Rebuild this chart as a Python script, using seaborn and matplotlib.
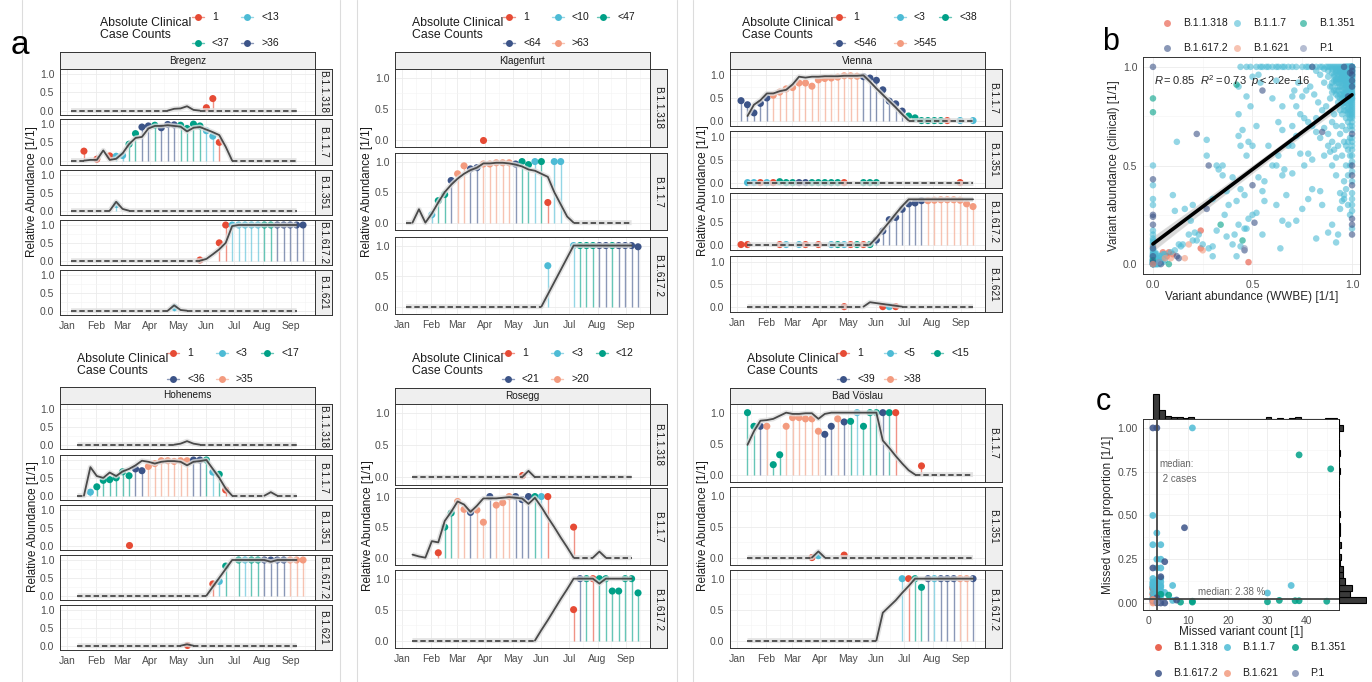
import numpy as np
import pandas as pd
import matplotlib
matplotlib.use("Agg")
import matplotlib.pyplot as plt
import matplotlib.dates as mdates
import seaborn as sns

N = None

# ---------------- data: panel a (weekly, week 0 = 2021-01-05) ----------------
WEEKS = pd.date_range("2021-01-05", periods=37, freq="7D")
NPG = ["#E64B35", "#4DBBD5", "#00A087", "#3C5488", "#F39B7F", "#8491B4"]

BREGENZ_LEVELS = ["1", "<13", "<37", ">36"]
BREGENZ_WW = {
    "B.1.1.318": [0, 0, 0, 0, 0, 0, 0, 0, 0, 0, 0, 0, 0, 0, 0, 0, .05, .06, .12, .02,
                  0, 0, 0, 0, 0, 0, 0, 0, 0, 0, 0, 0, 0, 0, 0, 0],
    "B.1.1.7": [0, 0, 0, .02, .02, .28, .02, .05, .2, .45, .62, .65, .88, .95, .95, .97, .95, .93,
                .8, .9, .92, .85, .78, .7, .38, 0, 0, 0, 0, 0, 0, 0, 0, 0, 0, 0],
    "B.1.351": [0, 0, 0, 0, 0, 0, 0, .25, .05, 0, 0, 0, 0, 0, 0, 0, 0, 0,
                0, 0, 0, 0, 0, 0, 0, 0, 0, 0, 0, 0, 0, 0, 0, 0, 0, 0],
    "B.1.617.2": [0, 0, 0, 0, 0, 0, 0, 0, 0, 0, 0, 0, 0, 0, 0, 0, 0, 0, 0, 0, 0,
                  .05, .18, .32, .5, .97, 1, 1, 1, 1, 1, 1, 1, 1, 1, 1],
    "B.1.621": [0, 0, 0, 0, 0, 0, 0, 0, 0, 0, 0, 0, 0, 0, 0, 0, .15, .02,
                0, 0, 0, 0, 0, 0, 0, 0, 0, 0, 0, 0, 0, 0, 0, 0, 0, 0],
}
BREGENZ_CL = {
    "B.1.1.318": [(21, .08, 0), (22, .33, 0)],
    "B.1.1.7": [(2, .26, 0), (4, .04, 0), (6, .13, 0), (7, .12, 1), (8, .14, 1), (9, .45, 2),
                (10, .74, 2), (11, .92, 3), (12, .95, 3), (13, .97, 2), (14, .9, 3), (15, .99, 3),
                (16, .98, 3), (17, .97, 2), (18, .88, 2), (19, 1, 2), (20, .95, 2), (21, .82, 1),
                (22, .67, 1), (23, .5, 0)],
    "B.1.351": [(7, .2, 1)],
    "B.1.617.2": [(20, .02, 0), (23, .5, 0), (24, 1, 0), (25, 1, 1), (26, 1, 1), (27, 1, 1),
                  (28, 1, 1), (29, 1, 1), (30, 1, 2), (31, 1, 2), (32, 1, 3), (33, 1, 3),
                  (34, 1, 3), (35, 1, 3), (36, 1, 3)],
    "B.1.621": [(16, .1, 1)],
}

KLAGENFURT_LEVELS = ["1", "<10", "<47", "<64", ">63"]
KLAGENFURT_WW = {
    "B.1.1.318": [],
    "B.1.1.7": [0, 0, .22, 0, .15, .33, .5, .62, .72, .8, .86, .9, .97, .97, .98, .98, .97, .95,
                .92, .87, .85, .8, .75, .5, .3, .1, 0, 0, 0, 0, 0, 0, 0, 0, 0, 0],
    "B.1.617.2": [0, 0, 0, 0, 0, 0, 0, 0, 0, 0, 0, 0, 0, 0, 0, 0, 0, 0, 0, 0, 0, 0,
                  .2, .4, .6, .8, 1, 1, 1, 1, 1, 1, 1, 1, 1, 1],
}
KLAGENFURT_CL = {
    "B.1.1.318": [(12, 0, 0)],
    "B.1.1.7": [(4, .13, 1), (5, .36, 2), (6, .46, 2), (7, .69, 3), (8, .8, 4), (9, .93, 4),
                (10, .88, 3), (11, .9, 3), (12, .96, 4), (13, .96, 4), (14, .98, 4), (15, .98, 4),
                (16, .98, 4), (17, .96, 3), (18, 1, 2), (19, .95, 2), (20, 1, 1), (21, 1, 2),
                (22, .33, 0), (23, 1, 1), (24, 1, 1)],
    "B.1.617.2": [(22, .67, 1), (26, 1, 1), (27, 1, 2), (28, 1, 2), (29, 1, 2), (30, 1, 3),
                  (31, 1, 3), (32, 1, 2), (33, 1, 3), (34, 1, 3), (35, 1, 3), (36, .98, 3)],
}

VIENNA_LEVELS = ["1", "<3", "<38", "<546", ">545"]
VIENNA_WW = {
    "B.1.1.7": [N, .1, .35, .45, .6, .6, .65, .68, .8, .97, .95, .97, .97, .98, .98, .98, .99, .99,
                .99, 1, .86, .71, .57, .43, .29, .14, 0, 0, 0, 0, 0, 0, 0, 0, 0, 0, 0],
    "B.1.351": [N, 0, 0, 0, 0, 0, 0, 0, 0, 0, 0, 0, 0, 0, 0, 0, 0, 0, 0,
                0, 0, 0, 0, 0, 0, 0, 0, 0, 0, 0, 0, 0, 0, 0, 0, 0, 0],
    "B.1.617.2": [N, 0, 0, 0, 0, 0, 0, 0, 0, 0, 0, 0, 0, 0, 0, 0, 0, 0, 0, 0, 0,
                  .15, .33, .5, .68, .85, 1, 1, 1, 1, 1, 1, 1, 1, 1, 1, 1],
    "B.1.621": [N, 0, 0, 0, 0, 0, 0, 0, 0, 0, 0, 0, 0, 0, 0, 0, 0, 0, 0, 0,
                .1, .08, .06, .04, .02, 0, 0, 0, 0, 0, 0, 0, 0, 0, 0, 0, 0],
}
VIENNA_CL = {
    "B.1.1.7": [(0, .44, 3), (1, .35, 3), (2, .17, 3), (3, .38, 3), (4, .5, 3), (5, .56, 4),
                (6, .63, 4), (7, .7, 4), (8, .73, 4), (9, .83, 4), (10, .83, 4), (11, .76, 4),
                (12, .9, 4), (13, .93, 4), (14, .94, 4), (15, .96, 4), (16, .99, 4), (17, .99, 4),
                (18, .98, 4), (19, .97, 3), (20, .94, 3), (21, .89, 3), (22, .68, 3), (23, .43, 3),
                (24, .37, 3), (25, .21, 3), (26, .1, 2), (27, .06, 2), (28, 0, 2), (29, 0, 2),
                (30, 0, 2), (31, 0, 2), (32, 0, 0), (34, 0, 1), (36, 0, 1)],
    "B.1.351": [(1, 0, 1), (2, 0, 1), (3, 0, 0), (4, 0, 1), (5, 0, 0), (6, .02, 2), (7, 0, 2),
                (8, 0, 2), (9, 0, 3), (10, 0, 3), (11, 0, 2), (12, 0, 2), (13, 0, 2), (14, 0, 2),
                (15, 0, 2), (16, 0, 0), (19, 0, 2), (20, 0, 2), (21, 0, 2), (34, 0, 0)],
    "B.1.617.2": [(0, 0, 0), (1, 0, 0), (6, 0, 0), (7, 0, 1), (9, 0, 1), (10, 0, 0), (12, 0, 0),
                  (14, 0, 1), (15, 0, 2), (16, 0, 1), (17, 0, 0), (18, 0, 2), (19, 0, 0),
                  (20, 0, 2), (21, .1, 3), (22, .3, 3), (23, .55, 3), (24, .6, 3), (25, .78, 3),
                  (26, .9, 3), (27, .92, 3), (28, .97, 3), (29, .97, 4), (30, .98, 4),
                  (31, .99, 4), (32, .99, 4), (33, .99, 4), (34, .98, 4), (35, .9, 4), (36, .84, 4)],
    "B.1.621": [(16, 0, 0), (22, 0, 0), (23, 0, 1), (24, 0, 0)],
}

HOHENEMS_LEVELS = ["1", "<3", "<17", "<36", ">35"]
HOHENEMS_WW = {
    "B.1.1.318": [N, 0, 0, 0, 0, 0, 0, 0, 0, 0, 0, 0, 0, 0, 0, 0, 0, .03, .1, .03,
                  0, 0, 0, 0, 0, 0, 0, 0, 0, 0, 0, 0, 0, 0, 0, 0],
    "B.1.1.7": [N, 0, 0, .8, .55, .5, .65, .55, .68, .75, .85, .98, .95, .9, .95, .97, .97, .95,
                .85, .95, .97, 1, .75, .5, .2, 0, 0, 0, 0, 0, 0, .1, 0, 0, 0, 0],
    "B.1.351": [],
    "B.1.617.2": [N, 0, 0, 0, 0, 0, 0, 0, 0, 0, 0, 0, 0, 0, 0, 0, 0, 0, 0, 0, 0, 0,
                  .25, .5, .75, 1, 1, 1, 1, 1, 1, .95, 1, 1, 1, 1],
    "B.1.621": [N, 0, 0, 0, 0, 0, 0, 0, 0, 0, 0, 0, 0, 0, 0, 0, 0, 0, .04,
                0, 0, 0, 0, 0, 0, 0, 0, 0, 0, 0, 0, 0, 0, 0, 0, 0],
}
HOHENEMS_CL = {
    "B.1.1.318": [],
    "B.1.1.7": [(3, .1, 1), (4, .25, 2), (5, .43, 2), (6, .45, 2), (7, .5, 2), (8, .67, 2),
                (9, .56, 2), (10, .75, 3), (11, .7, 3), (12, .82, 4), (13, .9, 4), (14, .98, 4),
                (15, .98, 4), (16, .96, 4), (17, .98, 4), (18, .98, 4), (19, 1, 3), (20, 1, 3),
                (21, 1, 2), (22, .66, 1), (23, .6, 2), (24, .16, 0)],
    "B.1.351": [(9, .03, 0)],
    "B.1.617.2": [(22, .33, 0), (23, .4, 1), (24, .83, 2), (26, 1, 2), (27, 1, 1), (28, 1, 2),
                  (29, 1, 2), (30, 1, 3), (31, 1, 3), (32, 1, 3), (33, 1, 3), (34, 1, 4),
                  (35, 1, 4), (36, 1, 4)],
    "B.1.621": [(18, .02, 0)],
}

ROSEGG_LEVELS = ["1", "<3", "<12", "<21", ">20"]
ROSEGG_WW = {
    "B.1.1.318": [N, 0, 0, 0, 0, 0, 0, 0, 0, 0, 0, 0, 0, 0, 0, 0, 0, 0, 0, .1,
                  0, 0, 0, 0, 0, 0, 0, 0, 0, 0, 0, 0, 0, 0, 0, 0],
    "B.1.1.7": [N, .05, .02, 0, .27, .25, .6, .75, .92, .87, .75, .85, .97, .97, .97, .98, .99,
                .98, .97, .88, .98, .83, .66, .5, .33, .17, 0, 0, 0, 0, .1, 0, 0, 0, 0, 0],
    "B.1.617.2": [N, 0, 0, 0, 0, 0, 0, 0, 0, 0, 0, 0, 0, 0, 0, 0, 0, 0, 0, 0, 0,
                  .17, .33, .5, .67, .83, 1, 1, 1, 1, .92, 1, 1, 1, 1, 1],
}
ROSEGG_CL = {
    "B.1.1.318": [(18, .04, 0)],
    "B.1.1.7": [(5, .08, 0), (6, .5, 2), (7, .73, 2), (8, .92, 4), (9, .79, 4), (10, .74, 3),
                (11, .78, 4), (12, .58, 4), (13, 1, 3), (14, .86, 4), (15, .9, 4), (16, 1, 4),
                (17, 1, 3), (18, .95, 3), (19, 1, 3), (20, 1, 2), (21, 1, 1), (22, 1, 0),
                (26, .5, 0)],
    "B.1.617.2": [(26, .5, 0), (27, 1, 3), (28, 1, 2), (29, 1, 0), (30, 1, 2), (31, 1, 2),
                  (32, .8, 2), (33, .8, 2), (34, 1, 2), (35, 1, 2), (36, .77, 2)],
}

VOESLAU_LEVELS = ["1", "<5", "<15", "<39", ">38"]
VOESLAU_WW = {
    "B.1.1.7": [N, .48, .7, .87, .88, .9, .95, 1, .98, .98, .99, .99, .9, .98, 1, 1, 1, 1, 1, 1,
                1, 1, .55, .43, .3, .18, .07, 0, 0, 0, 0, 0, 0, 0, 0, 0, 0],
    "B.1.351": [N, 0, 0, 0, 0, 0, 0, 0, 0, 0, 0, 0, .1, 0, 0, 0, 0, 0, 0,
                0, 0, 0, 0, 0, 0, 0, 0, 0, 0, 0, 0, 0, 0, 0, 0, 0, 0],
    "B.1.617.2": [N, 0, 0, 0, 0, 0, 0, 0, 0, 0, 0, 0, 0, 0, 0, 0, 0, 0, 0, 0, 0, 0,
                  .45, .55, .65, .77, .88, 1, 1, 1, 1, 1, 1, 1, 1, 1, 1],
}
VOESLAU_CL = {
    "B.1.1.7": [(1, 1, 2), (2, .78, 2), (3, .78, 3), (4, .78, 4), (5, .16, 2), (6, .32, 2),
                (7, .78, 4), (8, .92, 4), (9, .92, 4), (10, .9, 4), (11, .9, 4), (12, .7, 4),
                (13, .65, 3), (14, .78, 3), (15, .9, 4), (16, .85, 3), (17, .86, 2), (18, 1, 1),
                (19, .78, 2), (20, 1, 2), (21, 1, 2), (22, 1, 3), (23, 1, 2), (24, 1, 0),
                (28, .14, 0)],
    "B.1.351": [(11, 0, 0), (12, .03, 1), (16, .04, 0)],
    "B.1.617.2": [(25, 1, 1), (26, 1, 0), (27, 1, 2), (28, .86, 2), (29, 1, 3), (30, 1, 1),
                  (31, 1, 3), (32, 1, 3), (33, 1, 3), (34, 1, 4), (35, 1, 4), (36, 1, 3)],
}

# ---------------- data: panel b (WWBE vs clinical abundance) ----------------
VARIANTS = ["B.1.1.318", "B.1.1.7", "B.1.351", "B.1.617.2", "B.1.621", "P.1"]
B_B11318 = [(0, .09), (.05, .06), (.07, .04), (.08, .06), (.1, .05), (.24, .17), (.24, .08), (.48, .01)]
B_B117 = [(0, .5), (0, .4), (0, .33), (0, .3), (0, .17), (0, .15), (0, .13), (0, .12), (0, .1),
          (0, .06), (0, .05), (0, .03), (.11, .07), (.14, .09), (.2, .12), (.22, .12), (.23, .15),
          (.21, .16), (.28, .08), (.3, .09), (.3, .04), (.25, .1), (.18, .15), (.2, .3), (.16, .28),
          (.1, .35), (.12, .62), (.13, .1), (.15, .1), (.09, .06), (.11, .27), (.19, .22),
          (.27, .63), (.27, .55), (.3, .33), (.32, .5), (.33, .48), (.35, .5), (.32, .17),
          (.35, .45), (.37, .37), (.38, .3), (.36, .25), (.4, .44), (.42, .32), (.41, .15),
          (.4, .1), (.37, .14), (.44, .6), (.45, .68), (.44, .38), (.46, .35), (.46, .18),
          (.43, .2), (.47, .55), (.48, .62), (.5, .6), (.49, .8), (.52, .7), (.52, .26), (.5, .25),
          (.48, .23), (.53, .44), (.55, .37), (.56, .32), (.55, .15), (.56, .42), (.54, .92),
          (.53, .96), (.5, .95), (.52, 1), (.55, 1), (.57, 1), (.44, 1), (.47, 1), (.49, 1),
          (.43, .9), (.47, .85), (.43, .76), (.43, .65), (.42, .04), (.44, .09), (.47, .18),
          (.6, .84), (.58, .6), (.6, .5), (.62, .5), (.63, .55), (.65, .45), (.62, .3), (.64, .08),
          (.65, .22), (.66, .48), (.67, .35), (.63, .72), (.65, .68), (.65, .8), (.68, .6),
          (.7, .6), (.7, .46), (.68, .2), (.7, .85), (.62, .93),
          (.72, .22), (.75, .28), (.78, .33), (.8, .38), (.82, .13), (.84, .37), (.85, .3),
          (.88, .16), (.9, .2), (.92, .11), (.93, .15), (.95, .32), (.96, .33), (.94, .36),
          (.92, .45), (.9, .5), (.88, .6), (.86, .55), (.84, .64), (.82, .67), (.8, .7), (.78, .72),
          (.76, .74), (.74, .76), (.72, .8), (.71, .88), (.73, .92), (.75, .85), (.77, .88),
          (.79, .9), (.81, .86), (.83, .82), (.85, .78), (.87, .8), (.89, .84), (.91, .88),
          (.93, .9), (.95, .93), (.97, .95), (.9, .72), (.92, .7), (.94, .66), (.96, .62),
          (.93, .6), (.95, .55), (.97, .5), (.96, .42), (.97, .38), (.98, .3), (.99, .25),
          (.82, .74), (.86, .69), (.88, .66), (.9, .62), (.78, .56), (.8, .53), (.76, .5),
          (.74, .56), (.72, .65), (.7, .7), (.88, .95), (.9, .97), (.86, .92), (.84, .96),
          (.82, .98), (.92, .98), (.94, .97), (.96, .99), (.98, .98), (.99, .92), (.98, .88),
          (.97, .85), (.96, .8), (.95, .76), (.98, .72), (.97, .68), (.99, .64), (.98, .58),
          (.99, .55), (.98, .45), (.94, .28), (.96, .35), (.91, .58), (.89, .57), (.92, .54),
          (.58, 1), (.6, 1), (.62, 1), (.65, 1), (.7, 1), (.72, 1), (.75, 1), (.77, 1), (.82, 1),
          (.85, 1), (.87, 1), (.9, 1), (.92, 1), (.94, 1), (.98, 1),
          (1, .98), (1, .94), (1, .92), (1, .88), (1, .86), (1, .84), (1, .82), (1, .8), (1, .78),
          (1, .76), (1, .74), (1, .72), (1, .7), (1, .68), (1, .64), (1, .62), (1, .6), (1, .58),
          (1, .55), (1, .52), (1, .47), (1, .42), (1, .36), (1, .33), (1, .3), (1, .27), (1, .18),
          (.99, .96), (.99, .87), (.99, .78), (.98, .76), (.99, .7), (.98, .62), (.99, .5),
          (.97, .9), (.96, .86), (.95, .7), (.93, .82), (.94, .78), (.91, .76), (.97, .6)]
# overplotted clusters in panel b (top right corner, bottom left corner)
B_B117_TOPRIGHT = [(.97, 1), (.98, .99), (.99, .98), (1, .97), (.96, .97), (.95, .98), (.97, .96),
                   (.98, .95), (.99, .94), (1, .93), (.96, .93), (.97, .92), (.98, .91), (1, .91),
                   (.95, .9), (.96, .89), (.99, .89), (1, .87), (.97, .87), (.98, .86), (.95, .86),
                   (.99, .85), (1, .83), (.96, .84), (.97, .82), (.98, .81), (1, .79), (.99, .8),
                   (.95, .81), (.96, .78), (.98, .77), (1, .75), (.99, .74), (.97, .74), (.93, .96),
                   (.94, .94), (.92, .93), (.93, .88), (.91, .95), (.9, .92), (.89, .9), (.92, .86),
                   (.9, .87), (.94, .84), (.88, .98), (.86, .99), (.84, 1), (.99, 1), (1, 1),
                   (.97, .99), (.96, 1), (.95, 1), (.93, 1), (.91, 1), (.89, 1), (.88, 1), (.8, 1),
                   (.78, 1), (.68, 1), (.66, 1), (.63, 1), (.54, 1), (1, .99), (1, .96), (1, .95),
                   (.99, .91), (.98, .93), (.97, .97), (.96, .95), (.94, .99), (.92, .97),
                   (1, .9), (1, .85), (.99, .83), (.98, .79), (1, .77), (.97, .78), (.99, .76)]
B_B117_CORNER = [(1, 1), (1, 1), (.99, 1), (.99, .99), (1, .99), (.98, 1), (.98, .98), (1, .98),
                 (.99, .97), (.97, .98), (1, .97), (.99, .95), (.98, .96), (.97, .97), (1, .95),
                 (.99, .93), (.98, .94), (1, .94), (.97, .95), (.96, .96), (1, .92), (.99, .92),
                 (.98, .92), (.97, .93), (.96, .94), (.95, .95), (1, .9), (.99, .9), (.98, .9),
                 (.97, .91), (1, .89), (.99, .88), (.98, .89), (.96, .91), (.95, .92), (.94, .93),
                 (1, .86), (.99, .86), (.98, .87), (.97, .88), (1, .84), (.99, .84), (.98, .84),
                 (.97, .86), (.96, .87), (.95, .88), (.94, .9), (.93, .92), (.92, .94), (.91, .96),
                 (1, 1), (.99, 1), (.98, .99), (.97, 1), (.96, .98), (.95, .97), (.94, .96),
                 (.93, .94), (.92, .92), (.91, .93), (1, .81), (.99, .82), (.98, .83), (.97, .84),
                 (.96, .82), (.95, .84), (.94, .86), (.93, .85), (.92, .88), (.9, .9), (1, .96),
                 (.99, .96), (.98, .97), (.97, .99), (.96, .99), (.95, .99), (.94, .98),
                 (.93, .98), (.92, .99), (.9, .99), (1, 1), (1, 1), (1, .99), (1, .98), (1, .97),
                 (.99, 1), (.99, .99), (.99, .98), (.98, 1), (.98, .99), (.97, 1), (.97, .98),
                 (1, .96), (1, .95), (.99, .97), (.98, .96), (.96, .97), (.95, .96), (1, .93),
                 (.99, .94), (.98, .95), (.97, .96), (.96, .95), (.95, .94), (1, .91)]
B_B117_BOTLEFT = [(0, 0), (0, .01), (0, .02), (0, .04), (.01, 0), (.02, .01), (.03, .02), (0, .07),
                  (0, .08), (.01, .03), (0, .0), (.02, .0), (.04, .01), (0, .11), (.01, .05)]
B_B117_ORIGIN = [(0, 0), (0, 0), (0, .01), (0, .01), (0, .02), (0, .02), (0, .03), (.01, .01),
                 (.01, .02), (.02, .02), (.02, .03), (.03, .03), (.01, 0), (.03, .01), (.04, .02),
                 (0, .04), (.01, .04), (.02, .05), (.03, .04), (.05, .03), (0, .05), (.01, .06),
                 (.04, .04), (.05, .05), (.06, .02), (0, 0), (.02, 0), (.03, 0), (.05, .01),
                 (.06, .05)]
B_B1351 = [(0, .84), (0, .77), (0, .02), (.08, 0), (.42, .91), (.34, .2), (.45, .12)]
B_B16172 = [(0, 1), (0, .43), (0, .25), (0, .24), (0, .2), (0, .08), (0, .04), (0, .01), (0, 0),
            (.22, .66), (.28, .5), (.27, .28), (.46, .07), (.5, .4), (.51, .21), (.55, .88),
            (.12, .04), (.13, .03), (.04, 0), (.8, 1), (.96, 1), (.85, .67), (1, 1), (1, .96),
            (1, .9), (1, .66), (1, .5), (1, .45), (1, .4), (1, .23), (1, .2), (1, .15), (.99, .97),
            (.98, .85), (1, .98), (1, .93)]
B_B1621 = [(0, 0), (.06, .03), (.09, .03), (.16, .03), (.18, .1), (.25, .07)]
B_P1 = [(.46, .08), (.03, .01)]

# ---------------- data: panel c (missed variants) ----------------
C_B11318 = [(1, .09), (1, .05), (1, .08)]
C_B117 = [(11, 1), (1, .5), (2, .4), (1, .333), (3, .333), (2, .25), (3, .25), (2, .2), (3, .2),
          (1, .14), (2, .13), (3, .12), (1, .11), (2, .1), (3, .1), (1, .09), (2, .08), (3, .07),
          (1, .06), (2, .05), (3, .04), (1, .03), (2, .02), (6, .1), (6, .015), (30, .057),
          (36, .1), (1, .12), (3, .14), (2, .11), (4, .06), (1, .1), (3, .09), (2, .06)]
C_B1351 = [(38, .846), (46, .766), (3, .05), (5, .045), (8, .005), (11, .005), (11, .01),
           (30, .007), (33, .015), (37, .013), (38, .013), (45, .01), (2, .01)]
C_B16172 = [(1, 1), (2, 1), (9, .43), (4, .236), (1, .2), (3, .15), (2, .03), (7, .017),
            (1, .02), (2, 0), (3, 0), (4, 0), (1, .01)]
C_B1621 = [(1, 0), (1, .02)]
C_P1 = [(2, .005)]
C_MEDIAN_COUNT = 2
C_MEDIAN_PROP = 0.0238

# ---------------- layout ----------------
W, H = 1372, 682
SITES = [
    ("Bregenz", BREGENZ_LEVELS, BREGENZ_WW, BREGENZ_CL),
    ("Klagenfurt", KLAGENFURT_LEVELS, KLAGENFURT_WW, KLAGENFURT_CL),
    ("Vienna", VIENNA_LEVELS, VIENNA_WW, VIENNA_CL),
    ("Hohenems", HOHENEMS_LEVELS, HOHENEMS_WW, HOHENEMS_CL),
    ("Rosegg", ROSEGG_LEVELS, ROSEGG_WW, ROSEGG_CL),
    ("Bad Vöslau", VOESLAU_LEVELS, VOESLAU_WW, VOESLAU_CL),
]
LAYOUT = [
    dict(x0=60, x1=315, strip=52, rows=[(69, 115), (119, 165), (170, 215), (220, 265), (270, 315)],
         ylab=32, title=100, keys=[198, 247], dy=0),
    dict(x0=395, x1=650, strip=52, rows=[(69, 147), (153, 230), (237, 314)],
         ylab=367, title=412, keys=[509, 558, 603], dy=0),
    dict(x0=730, x1=985, strip=52, rows=[(69, 126), (131, 188), (193, 250), (256, 312)],
         ylab=703, title=742, keys=[839, 900, 945], dy=0),
    dict(x0=60, x1=315, strip=387, rows=[(404, 449), (455, 500), (505, 550), (555, 600), (605, 650)],
         ylab=33, title=77, keys=[173, 222, 267], dy=336),
    dict(x0=395, x1=650, strip=388, rows=[(404, 485), (488, 565), (570, 648)],
         ylab=368, title=412, keys=[508, 557, 602], dy=336),
    dict(x0=730, x1=985, strip=388, rows=[(404, 482), (487, 565), (570, 648)],
         ylab=703, title=747, keys=[843, 890, 937], dy=336),
]

sns.set_theme(style="white")
plt.rcParams["font.family"] = ["Liberation Sans", "DejaVu Sans"]
plt.rcParams["mathtext.fontset"] = "custom"
plt.rcParams["mathtext.rm"] = "Liberation Sans"
plt.rcParams["mathtext.it"] = "Liberation Sans:italic"

TICK_C = "#4D4D4D"
fig = plt.figure(figsize=(W / 100, H / 100), dpi=100)
fig.patch.set_facecolor("white")


def pax(l, t, r, b, **kw):
    return fig.add_axes([l / W, 1 - b / H, (r - l) / W, (b - t) / H], **kw)


ov = pax(0, 0, W, H)
ov.set_xlim(0, W)
ov.set_ylim(H, 0)
ov.axis("off")
for xv in [22, 340, 357, 677, 693, 1010]:
    ov.plot([xv, xv], [0, H], color="#dcdcdc", lw=0.8)


def style_bw(ax):
    ax.set_facecolor("white")
    for s in ax.spines.values():
        s.set_color("#333333")
        s.set_linewidth(0.7)
    ax.grid(which="major", color="#EBEBEB", lw=0.6)
    ax.grid(which="minor", color="#F4F4F4", lw=0.4)
    ax.set_axisbelow(True)
    ax.tick_params(which="major", labelsize=7.5, labelcolor=TICK_C, color="#333333",
                   length=2.5, width=0.5, pad=1.5)
    ax.tick_params(which="minor", length=0)
    ax.set_xlabel("")
    ax.set_ylabel("")


def strip(l, t, r, b, text, rot=0):
    sa = pax(l, t, r, b)
    sa.set_facecolor("#EFEFEF")
    sa.set_xticks([])
    sa.set_yticks([])
    for s in sa.spines.values():
        s.set_color("#333333")
        s.set_linewidth(0.7)
    sa.text(0.5, 0.5, text, rotation=rot, ha="center", va="center", fontsize=7.2,
            color="#1A1A1A", transform=sa.transAxes)


def flat(v, j):
    return j < 0 or j >= len(v) or np.isnan(v[j]) or v[j] == 0


def draw_row(ax, ww, cl, levels):
    pal = dict(zip(levels, NPG))
    if cl:
        df = pd.DataFrame(cl, columns=["week", "value", "lvl"])
        df["date"] = WEEKS[df["week"].to_numpy()]
        df["level"] = [levels[i] for i in df["lvl"]]
        ax.vlines(df["date"], 0, df["value"], colors=[pal[l] for l in df["level"]],
                  alpha=0.6, lw=1.0, zorder=2)
        sns.scatterplot(data=df, x="date", y="value", hue="level", hue_order=levels,
                        palette=pal, s=26, linewidth=0, legend=False, ax=ax, zorder=3)
    if ww:
        v = np.full(len(WEEKS), np.nan)
        v[:len(ww)] = [np.nan if a is None else a for a in ww]
        zero = v == 0
        solid = v.copy()
        for i in range(len(v)):
            if zero[i] and flat(v, i - 1) and flat(v, i + 1):
                solid[i] = np.nan
        dashed = np.where(zero, v, np.nan)
        ax.plot(WEEKS, v, color="#dedede", lw=3.6, alpha=0.8, zorder=4, solid_capstyle="butt")
        ax.plot(WEEKS, solid, color="#4a4a4a", lw=1.3, zorder=5)
        ax.plot(WEEKS, dashed, color="#4a4a4a", lw=1.3, ls=(0, (3, 1.6)), zorder=5)


for (site, levels, wwd, cld), lay in zip(SITES, LAYOUT):
    variants = list(wwd.keys())
    x0, x1 = lay["x0"], lay["x1"]
    strip(x0, lay["strip"], x1, lay["rows"][0][0], site)
    for j, var in enumerate(variants):
        t, b = lay["rows"][j]
        ax = pax(x0, t, x1, b)
        style_bw(ax)
        draw_row(ax, wwd[var], cld.get(var, []), levels)
        ax.set_xlim(pd.Timestamp("2020-12-24"), pd.Timestamp("2021-09-27"))
        ax.set_ylim(-0.12, 1.14)
        ax.set_yticks([0, 0.5, 1])
        ax.set_yticklabels(["0.0", "0.5", "1.0"])
        ax.set_yticks([0.25, 0.75], minor=True)
        ax.xaxis.set_major_locator(mdates.MonthLocator())
        ax.xaxis.set_major_formatter(mdates.DateFormatter("%b"))
        ax.xaxis.set_minor_locator(mdates.MonthLocator(bymonthday=16))
        ax.set_xlabel("")
        ax.set_ylabel("")
        if j < len(variants) - 1:
            ax.tick_params(axis="x", which="major", labelbottom=False, length=0)
        strip(x1, t, x1 + 17, b, var, rot=-90)
    mid = (lay["rows"][0][0] + lay["rows"][-1][1]) / 2
    ov.text(lay["ylab"], mid, "Relative Abundance [1/1]", rotation=90, ha="center",
            va="center", fontsize=8.5, color="#1A1A1A")
    # legend of clinical case counts
    dy = lay["dy"]
    ov.text(lay["title"], 29 + dy, "Absolute Clinical\nCase Counts", ha="left", va="center",
            fontsize=8.8, linespacing=1.0, color="#1A1A1A")
    ncol = len(lay["keys"])
    for i, lab in enumerate(levels):
        kx = lay["keys"][i % ncol]
        ky = (17 if i < ncol else 43) + dy
        ov.plot([kx - 6, kx + 6], [ky, ky], color=NPG[i], lw=1.0, alpha=0.6)
        ov.plot([kx], [ky], marker="o", ms=5, color=NPG[i], mec="none")
        ov.text(kx + 14, ky, lab, ha="left", va="center", fontsize=7.5, color="#1A1A1A")

ov.text(20, 45, "a", ha="center", va="center", fontsize=24, color="black")

# ---------------- panel b ----------------
b_b117 = B_B117 + B_B117_TOPRIGHT + B_B117_CORNER + B_B117_BOTLEFT + B_B117_ORIGIN
b_groups = [B_B11318, b_b117, B_B1351, B_B16172, B_B1621, B_P1]
dfb = pd.concat([pd.DataFrame(g, columns=["wwbe", "clinical"]).assign(variant=v)
                 for g, v in zip(b_groups, VARIANTS)], ignore_index=True)
axb = pax(1143, 57, 1360, 274)
style_bw(axb)
sns.scatterplot(data=dfb, x="wwbe", y="clinical", hue="variant", hue_order=VARIANTS,
                palette=dict(zip(VARIANTS, NPG)), s=22, alpha=0.6, linewidth=0,
                legend=False, ax=axb, zorder=3)
sns.regplot(data=dfb, x="wwbe", y="clinical", scatter=False, color="black",
            line_kws=dict(lw=2.6, zorder=4), ax=axb)
axb.set_xlim(-0.05, 1.04)
axb.set_ylim(-0.05, 1.05)
axb.set_xticks([0, 0.5, 1])
axb.set_xticklabels(["0.0", "0.5", "1.0"])
axb.set_yticks([0, 0.5, 1])
axb.set_yticklabels(["0.0", "0.5", "1.0"])
axb.set_xticks([0.25, 0.75], minor=True)
axb.set_yticks([0.25, 0.75], minor=True)
axb.set_xlabel("Variant abundance (WWBE) [1/1]", fontsize=8.5, labelpad=1)
axb.set_ylabel("Variant abundance (clinical) [1/1]", fontsize=8.5, labelpad=2)
axb.text(0.005, 0.93, r"$R = 0.85$  $R^2 = 0.73$  $p < 2.2\mathrm{e{-}16}$",
         fontsize=8, ha="left", va="center", zorder=6)
ov.text(1111, 42, "b", ha="center", va="center", fontsize=22, color="black")
b_leg_x = [1167, 1237, 1303]
for i, v in enumerate(VARIANTS):
    kx = b_leg_x[i % 3]
    ky = 23 if i < 3 else 48
    ov.plot([kx], [ky], marker="o", ms=5, color=NPG[i], alpha=0.6, mec="none")
    ov.text(kx + 16, ky, v, ha="left", va="center", fontsize=7.5, color="#1A1A1A")

# ---------------- panel c ----------------
c_groups = [C_B11318, C_B117, C_B1351, C_B16172, C_B1621, C_P1]
dfc = pd.concat([pd.DataFrame(g, columns=["count", "prop"]).assign(variant=v)
                 for g, v in zip(c_groups, VARIANTS)], ignore_index=True)
axc = pax(1143, 419, 1339, 610)
style_bw(axc)
sns.scatterplot(data=dfc, x="count", y="prop", hue="variant", hue_order=VARIANTS,
                palette=dict(zip(VARIANTS, NPG)), s=24, alpha=0.85, linewidth=0,
                legend=False, ax=axc, zorder=3)
axc.axvline(C_MEDIAN_COUNT, color="#444444", lw=1.3, zorder=4)
axc.axhline(C_MEDIAN_PROP, color="#444444", lw=1.3, zorder=4)
axc.text(2.7, 0.75, "median:\n 2 cases", fontsize=7, color="#666666", ha="left",
         va="center", linespacing=1.6)
axc.text(12.5, 0.065, "median: 2.38 %", fontsize=7, color="#666666", ha="left", va="center")
axc.set_xlim(-1.5, 48.1)
axc.set_ylim(-0.04, 1.051)
axc.set_xticks([0, 10, 20, 30, 40])
axc.set_xticks([5, 15, 25, 35, 45], minor=True)
axc.set_yticks([0, 0.25, 0.5, 0.75, 1])
axc.set_yticklabels(["0.00", "0.25", "0.50", "0.75", "1.00"])
axc.set_yticks([0.125, 0.375, 0.625, 0.875], minor=True)
axc.set_xlabel("Missed variant count [1]", fontsize=8.5, labelpad=0)
axc.set_ylabel("Missed variant proportion [1/1]", fontsize=8.5, labelpad=2)

axt = pax(1143, 393, 1339, 419)
sns.histplot(data=dfc, x="count", binwidth=1.5, binrange=(1, 47.5), color="#3a3a3a",
             edgecolor="black", linewidth=0.8, alpha=1, ax=axt)
axt.set_xlim(-1.5, 48.1)
axt.axis("off")
axr = pax(1339, 419, 1367, 610)
sns.histplot(data=dfc, y="prop", binwidth=0.035, binrange=(0, 1.05), color="#3a3a3a",
             edgecolor="black", linewidth=0.8, alpha=1, ax=axr)
axr.set_ylim(-0.04, 1.051)
axr.axis("off")
ov.text(1103, 402, "c", ha="center", va="center", fontsize=22, color="black")
c_leg_x = [1158, 1227, 1295]
for i, v in enumerate(VARIANTS):
    kx = c_leg_x[i % 3]
    ky = 647 if i < 3 else 673
    ov.plot([kx], [ky], marker="o", ms=5, color=NPG[i], alpha=0.85, mec="none")
    ov.text(kx + 15, ky, v, ha="left", va="center", fontsize=7.5, color="#1A1A1A")

fig.savefig("out.png", dpi=100)
